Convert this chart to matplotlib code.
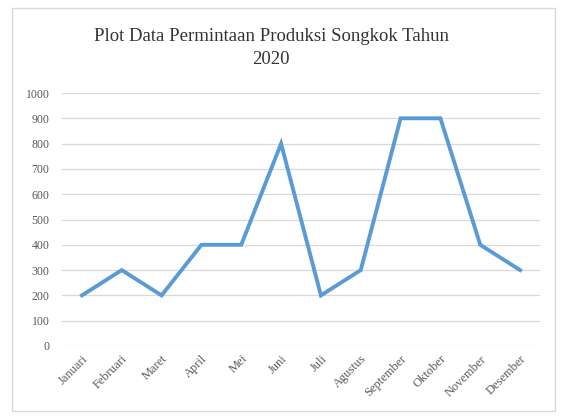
import matplotlib.pyplot as plt
from matplotlib.patches import Rectangle

bulan = ['Januari', 'Februari', 'Maret', 'April', 'Mei', 'Juni', 'Juli',
         'Agustus', 'September', 'Oktober', 'November', 'Desember']
permintaan = [200, 300, 200, 400, 400, 800, 200, 300, 900, 900, 400, 300]
yticks = list(range(0, 1001, 100))

plt.rcParams['font.family'] = ['Liberation Serif', 'DejaVu Serif']

fig = plt.figure(figsize=(5.62, 4.16), dpi=100)
fig.patches.append(Rectangle((12/562, 1 - 411/416), 543/562, 403/416,
                             transform=fig.transFigure, fill=False,
                             edgecolor='#d9d9d9', linewidth=1))

ax = fig.add_axes([62/562, 1 - 346/416, 478/562, 253/416])
x = list(range(len(bulan)))
ax.plot(x, permintaan, color='#5b9bd5', linewidth=2.8, solid_joinstyle='miter')

ax.set_xlim(-0.5, len(bulan) - 0.5)
ax.set_ylim(0, 1000)
ax.set_yticks(yticks)
ax.set_yticklabels([str(v) for v in yticks], fontsize=8.5, color='#595959')
ax.set_xticks(x)
ax.set_xticklabels(bulan, rotation=45, ha='right', rotation_mode='anchor',
                   fontsize=9, color='#595959')
ax.tick_params(axis='y', length=0, pad=9)
ax.tick_params(axis='x', length=0, pad=5)
ax.grid(axis='y', color='#d9d9d9', linewidth=0.9)
ax.set_axisbelow(True)
for s in ax.spines.values():
    s.set_visible(False)

fig.text(271/562, 1 - 48/416, 'Plot Data Permintaan Produksi Songkok Tahun\n2020',
         ha='center', va='center', fontsize=13.5, color='#333333', linespacing=1.4)

fig.savefig('out.png', dpi=100)
